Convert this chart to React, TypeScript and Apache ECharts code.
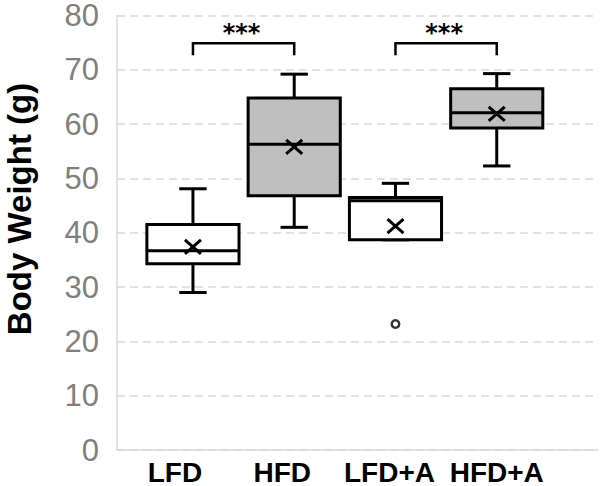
import React, { useEffect, useRef } from "react";
import * as echarts from "echarts";

// ---- data ----
const categories = ["LFD", "HFD", "LFD+A", "HFD+A"];
const whiskerLow = [29.0, 41.0, 38.7, 52.3];
const quartile1 = [34.3, 46.8, 38.7, 59.3];
const medians = [36.7, 56.3, 45.9, 62.1];
const quartile3 = [41.5, 64.8, 46.5, 66.5];
const whiskerHigh = [48.1, 69.2, 49.1, 69.3];
const means = [37.4, 55.8, 41.2, 61.9];
const outlierGroup = [2];
const outlierValue = [23.2];
const bracketFrom = [0, 2];
const bracketTo = [1, 3];
const bracketLegValue = [72.7, 72.7];
const bracketTopValue = [74.9, 74.9];
const bracketLabels = ["***", "***"];
const yTicks = [0, 10, 20, 30, 40, 50, 60, 70, 80];

// ---- styles ----
const boxFills = ["#ffffff", "#bfbfbf", "#ffffff", "#bfbfbf"];
const labelShiftRight = [36, 24, 12, 0];

export default function App() {
  const ref = useRef<HTMLDivElement>(null);
  useEffect(() => {
    if (!ref.current) return;
    const chart = echarts.init(ref.current, undefined, { renderer: "svg" });

    const boxData = categories.map((_, i) => [
      i + 1,
      whiskerLow[i],
      quartile1[i],
      medians[i],
      quartile3[i],
      whiskerHigh[i],
      means[i],
      i,
    ]);
    const outlierData = outlierGroup.map((g, k) => [g + 1, outlierValue[k]]);
    const bracketData = bracketFrom.map((f, k) => [
      f + 1,
      bracketTo[k] + 1,
      bracketLegValue[k],
      bracketTopValue[k],
      k,
    ]);

    const rich: any = {};
    categories.forEach((_, i) => {
      rich["l" + i] = {
        fontSize: 28,
        fontWeight: "bold",
        fontFamily: "Liberation Sans",
        color: "#000",
        padding: [0, labelShiftRight[i], 0, 0],
      };
    });

    const option: any = {
      animation: false,
      grid: { left: 117, right: 2, top: 15, bottom: 35 },
      xAxis: {
        type: "value",
        min: 0.25,
        max: 5,
        splitLine: { show: false },
        axisTick: { show: false },
        axisLine: { show: true, lineStyle: { color: "#d9d9d9", width: 1.5 } },
        axisLabel: {
          customValues: [1, 2, 3, 4],
          margin: 8,
          formatter: (v: number) => {
            const i = Math.round(v) - 1;
            return "{l" + i + "|" + categories[i] + "}";
          },
          rich,
        },
      },
      yAxis: {
        type: "value",
        min: 0,
        max: 80,
        interval: 10,
        axisLine: { show: true, lineStyle: { color: "#d9d9d9", width: 1.5 } },
        axisTick: { show: false },
        splitLine: {
          show: true,
          lineStyle: { color: "#d9d9d9", width: 1.5, type: [8, 5] },
        },
        axisLabel: {
          color: "#7f7f7f",
          fontSize: 31,
          lineHeight: 28,
          fontFamily: "Liberation Sans",
          margin: 18,
          formatter: (v: number) => (yTicks.includes(v) ? String(v) : ""),
        },
      },
      graphic: [
        {
          type: "text",
          x: 19,
          y: 209,
          rotation: Math.PI / 2,
          style: {
            text: "Body Weight (g)",
            fontSize: 33,
            fontWeight: "bold",
            fontFamily: "Liberation Sans",
            fill: "#000",
            align: "center",
            verticalAlign: "middle",
          },
        },
      ],
      series: [
        {
          type: "custom",
          data: boxData,
          encode: { x: 0, y: [1, 2, 3, 4, 5] },
          renderItem: (params: any, api: any) => {
            const x = api.value(0);
            const pLow = api.coord([x, api.value(1)]);
            const pQ1 = api.coord([x, api.value(2)]);
            const pMed = api.coord([x, api.value(3)]);
            const pQ3 = api.coord([x, api.value(4)]);
            const pHigh = api.coord([x, api.value(5)]);
            const pMean = api.coord([x, api.value(6)]);
            const idx = api.value(7);
            const halfW = api.size([0.91, 0])[0] / 2;
            const capHalf = api.size([0.27, 0])[0] / 2;
            const cx = pQ1[0];
            const ls = { stroke: "#000", lineWidth: 3 };
            return {
              type: "group",
              children: [
                { type: "line", shape: { x1: cx, y1: pHigh[1], x2: cx, y2: pQ3[1] }, style: ls },
                { type: "line", shape: { x1: cx, y1: pLow[1], x2: cx, y2: pQ1[1] }, style: ls },
                { type: "line", shape: { x1: cx - capHalf, y1: pHigh[1], x2: cx + capHalf, y2: pHigh[1] }, style: ls },
                { type: "line", shape: { x1: cx - capHalf, y1: pLow[1], x2: cx + capHalf, y2: pLow[1] }, style: ls },
                {
                  type: "rect",
                  shape: { x: cx - halfW, y: pQ3[1], width: halfW * 2, height: pQ1[1] - pQ3[1] },
                  style: { fill: boxFills[idx], stroke: "#000", lineWidth: 3 },
                },
                { type: "line", shape: { x1: cx - halfW, y1: pMed[1], x2: cx + halfW, y2: pMed[1] }, style: ls },
                { type: "line", shape: { x1: pMean[0] - 8, y1: pMean[1] - 7, x2: pMean[0] + 8, y2: pMean[1] + 7 }, style: ls },
                { type: "line", shape: { x1: pMean[0] - 8, y1: pMean[1] + 7, x2: pMean[0] + 8, y2: pMean[1] - 7 }, style: ls },
              ],
            };
          },
          z: 5,
        },
        {
          type: "scatter",
          data: outlierData,
          symbol: "circle",
          symbolSize: 7.5,
          itemStyle: { color: "#fff", borderColor: "#000", borderWidth: 2.5 },
          z: 6,
        },
        {
          type: "custom",
          data: bracketData,
          encode: { x: [0, 1], y: [2, 3] },
          renderItem: (params: any, api: any) => {
            const x1 = api.value(0);
            const x2 = api.value(1);
            const leg = api.value(2);
            const top = api.value(3);
            const k = api.value(4);
            const a = api.coord([x1, leg]);
            const b = api.coord([x1, top]);
            const c = api.coord([x2, top]);
            const d = api.coord([x2, leg]);
            return {
              type: "group",
              children: [
                {
                  type: "polyline",
                  shape: { points: [a, b, c, d] },
                  style: { stroke: "#000", lineWidth: 2.5, fill: "none" },
                },
                {
                  type: "text",
                  x: (b[0] + c[0]) / 2 - 2,
                  y: b[1] - 10,
                  style: {
                    text: bracketLabels[k],
                    fontSize: 24,
                    fontWeight: "bold",
                    fontFamily: "DejaVu Sans",
                    fill: "#000",
                    align: "center",
                    verticalAlign: "middle",
                  },
                },
              ],
            };
          },
          z: 5,
        },
      ],
    };
    chart.setOption(option);
    return () => chart.dispose();
  }, []);
  return (
    <div
      ref={ref}
      style={{ position: "absolute", left: 0, top: 0, width: 600, height: 486 }}
    />
  );
}
